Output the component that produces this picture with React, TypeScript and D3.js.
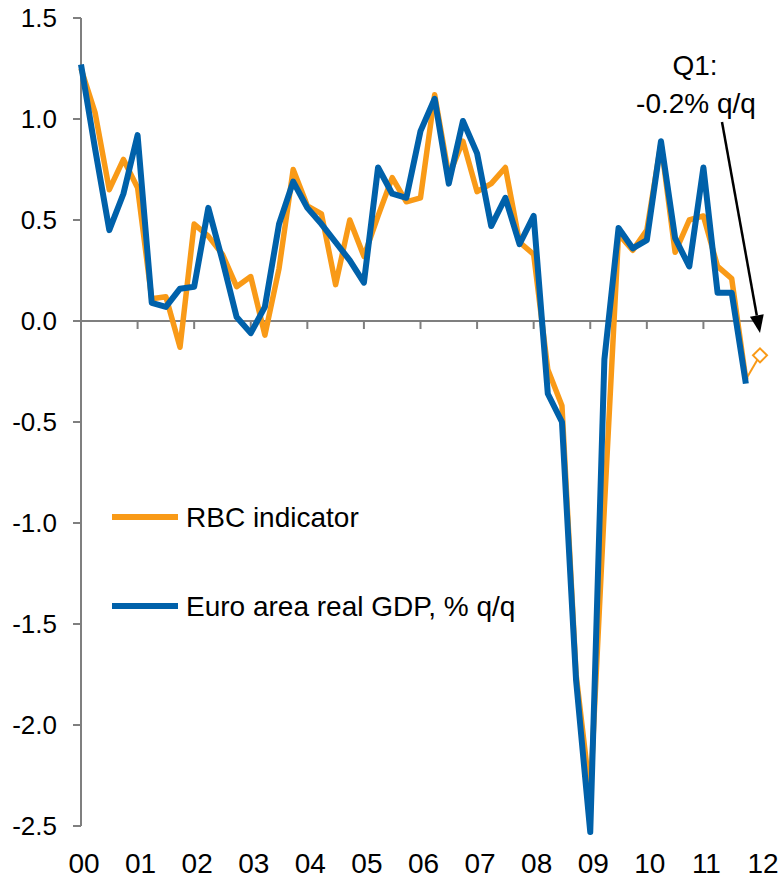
import React from 'react';
import * as d3 from 'd3';

// quarterly, 2000Q1 .. 2011Q4 (GDP) and 2000Q1 .. 2012Q1 (RBC indicator)
const gdp = [
  1.27, 0.85, 0.45, 0.63, 0.92, 0.09, 0.07, 0.16, 0.17, 0.56, 0.3, 0.02,
  -0.06, 0.07, 0.48, 0.69, 0.56, 0.48, 0.39, 0.3, 0.19, 0.76, 0.63, 0.61,
  0.94, 1.1, 0.68, 0.99, 0.83, 0.47, 0.61, 0.38, 0.52, -0.36, -0.5, -1.78,
  -2.53, -0.19, 0.46, 0.36, 0.4, 0.89, 0.41, 0.27, 0.76, 0.14, 0.14, -0.31,
];
const rbc = [
  1.25, 1.03, 0.65, 0.8, 0.66, 0.11, 0.12, -0.13, 0.48, 0.42, 0.33, 0.17,
  0.22, -0.07, 0.26, 0.75, 0.57, 0.53, 0.18, 0.5, 0.32, 0.52, 0.71, 0.59,
  0.61, 1.12, 0.72, 0.89, 0.64, 0.68, 0.76, 0.39, 0.33, -0.24, -0.42, -1.75,
  -2.35, -0.92, 0.43, 0.35, 0.45, 0.88, 0.34, 0.5, 0.52, 0.27, 0.21, -0.29,
  -0.17,
];
const yearLabels = ['00', '01', '02', '03', '04', '05', '06', '07', '08', '09', '10', '11', '12'];
const yTicks = [1.5, 1.0, 0.5, 0.0, -0.5, -1.0, -1.5, -2.0, -2.5];
const legendItems = ['RBC indicator', 'Euro area real GDP, % q/q'];
const noteLines = ['Q1:', '-0.2% q/q'];

const ORANGE = '#F99A17';
const BLUE = '#0061AA';
const AXIS = '#7F7F7F';
const FONT = '"Liberation Sans", Arial, sans-serif';

export default function App() {
  const width = 781;
  const height = 883;
  const x = d3.scaleLinear().domain([0, 48]).range([81, 760]);
  const y = d3.scaleLinear().domain([-2.5, 1.5]).range([826, 18]);

  const line = d3
    .line<number>()
    .x((d, i) => x(i))
    .y((d) => y(d));

  const rbcMain = rbc.slice(0, 48);
  const last = rbc.length - 1;
  const lx = x(last);
  const ly = y(rbc[last]);
  const dm = 7;

  // annotation arrow
  const ax1 = 722, ay1 = 122;
  const ax2 = x(48), ay2 = y(-0.06);
  const ang = Math.atan2(ay2 - ay1, ax2 - ax1);
  const hl = 18, hw = 7;
  const bx = ax2 - hl * Math.cos(ang), by = ay2 - hl * Math.sin(ang);
  const head = [
    [ax2, ay2],
    [bx + hw * Math.sin(ang), by - hw * Math.cos(ang)],
    [bx - hw * Math.sin(ang), by + hw * Math.cos(ang)],
  ];

  return (
    <svg
      width={width}
      height={height}
      style={{ position: 'absolute', left: 0, top: 0, background: '#fff' }}
      fontFamily={FONT}
    >
      {/* y axis */}
      <line x1={81} x2={81} y1={y(1.5)} y2={y(-2.5)} stroke={AXIS} strokeWidth={2} />
      {yTicks.map((t) => (
        <g key={t}>
          <line x1={73} x2={81} y1={y(t)} y2={y(t)} stroke={AXIS} strokeWidth={2} />
          <text x={57} y={y(t) + 9} textAnchor="end" fontSize={26} fill="#000">
            {t.toFixed(1)}
          </text>
        </g>
      ))}
      {/* x axis at zero */}
      <line x1={81} x2={x(48)} y1={y(0)} y2={y(0)} stroke={AXIS} strokeWidth={2} />
      {yearLabels.map((lab, k) => (
        <g key={lab}>
          {k > 0 && k < 12 && (
            <line x1={x(k * 4)} x2={x(k * 4)} y1={y(0)} y2={y(0) + 8} stroke={AXIS} strokeWidth={2} />
          )}
          <text x={x(k * 4) + 3} y={873} textAnchor="middle" fontSize={28} fill="#000">
            {lab}
          </text>
        </g>
      ))}

      {/* series */}
      <path d={line(rbcMain) || ''} fill="none" stroke={ORANGE} strokeWidth={5.5} strokeLinejoin="round" />
      <line x1={x(last - 1)} y1={y(rbc[last - 1])} x2={lx} y2={ly} stroke={ORANGE} strokeWidth={2} />
      <path
        d={`M${lx},${ly - dm}L${lx + dm},${ly}L${lx},${ly + dm}L${lx - dm},${ly}Z`}
        fill="#fff"
        stroke={ORANGE}
        strokeWidth={2}
      />
      <path d={line(gdp) || ''} fill="none" stroke={BLUE} strokeWidth={6} strokeLinejoin="round" />

      {/* legend */}
      {legendItems.map((lab, i) => (
        <g key={lab} transform={`translate(0,${517 + i * 89})`}>
          <line x1={112} x2={178} y1={0} y2={0} stroke={i === 0 ? ORANGE : BLUE} strokeWidth={6} />
          <text x={186} y={10} fontSize={28} fill="#000">
            {lab}
          </text>
        </g>
      ))}

      {/* annotation */}
      {noteLines.map((t, i) => (
        <text key={t} x={i === 0 ? 695 : 696} y={75 + i * 38} textAnchor="middle" fontSize={28} fill="#000">
          {t}
        </text>
      ))}
      <line x1={ax1} y1={ay1} x2={bx} y2={by} stroke="#000" strokeWidth={2.5} />
      <polygon points={head.map((p) => p.join(',')).join(' ')} fill="#000" />
    </svg>
  );
}
